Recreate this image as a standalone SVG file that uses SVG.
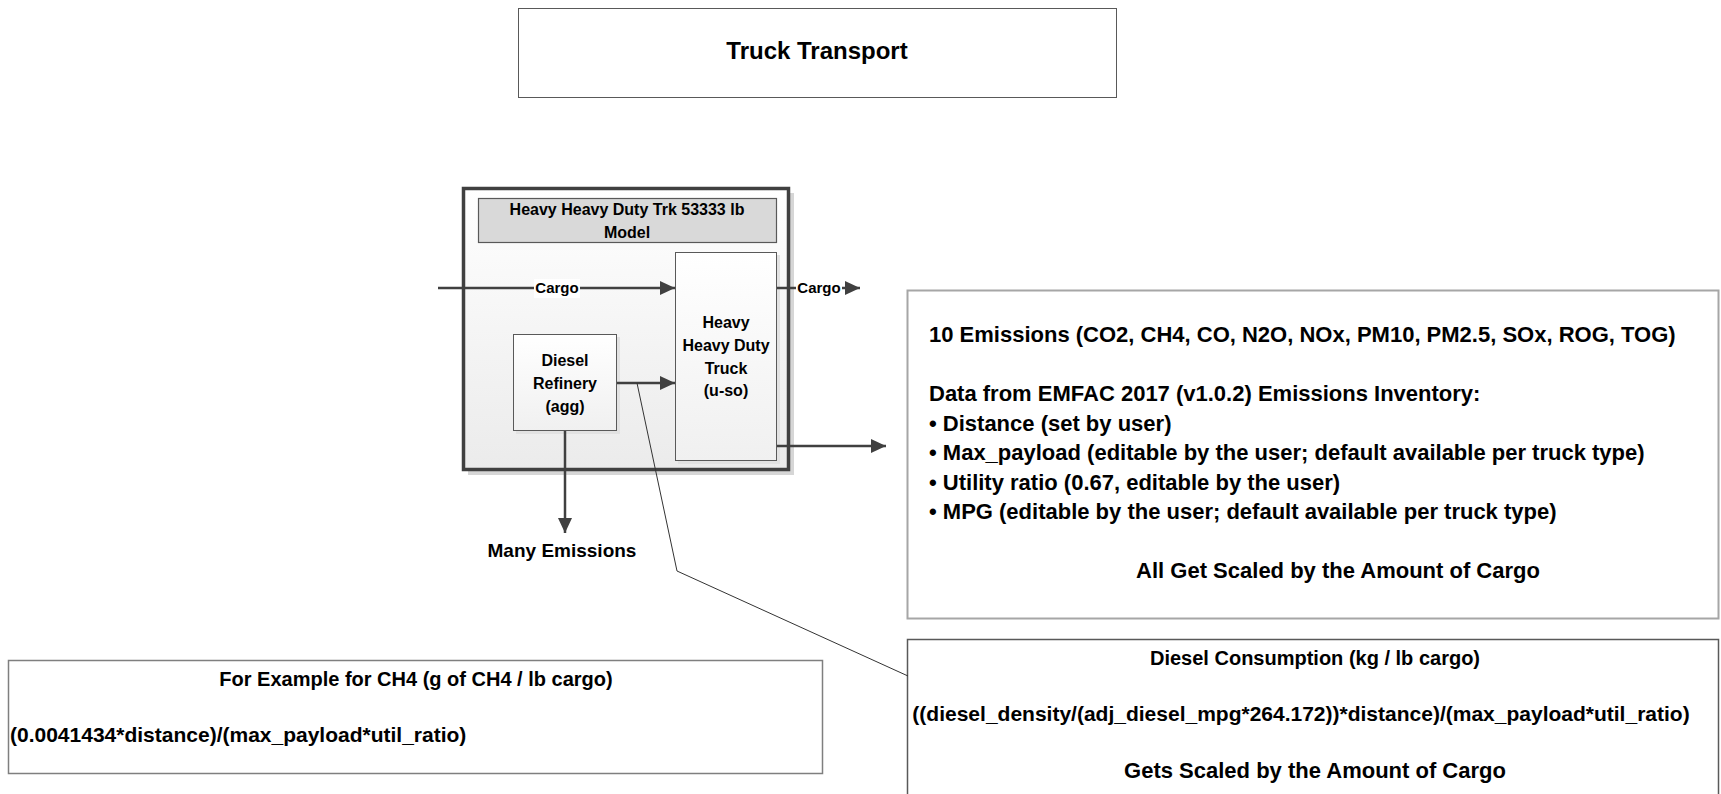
<svg xmlns="http://www.w3.org/2000/svg" width="1721" height="794" viewBox="0 0 1721 794">
<style>
  text { font-family: "Liberation Sans", Arial, sans-serif; font-weight: bold; fill: #000; }
  .c { text-anchor: middle; }
  .conn { stroke: #404040; stroke-width: 2.5; fill: none; }
  .thin { stroke: #333; stroke-width: 1; fill: none; }
  .box { stroke: #595959; stroke-width: 1; }
</style>
<defs>
  <linearGradient id="gCont" x1="0" y1="0" x2="0" y2="1">
    <stop offset="0" stop-color="#ffffff"/>
    <stop offset="1" stop-color="#ebebeb"/>
  </linearGradient>
  <linearGradient id="gBox" x1="0" y1="0" x2="0" y2="1">
    <stop offset="0" stop-color="#ffffff"/>
    <stop offset="1" stop-color="#f0f0f0"/>
  </linearGradient>
  <marker id="arr" markerUnits="userSpaceOnUse" markerWidth="16" markerHeight="14" refX="15" refY="7" orient="auto">
    <path d="M0,0 L15,7 L0,14 z" fill="#404040"/>
  </marker>
</defs>
<rect width="1721" height="794" fill="#ffffff"/>

<g id="title">
  <rect x="518.5" y="8.5" width="598" height="89" fill="#fff" stroke="#595959" stroke-width="1"/>
  <text class="c" x="817" y="59" font-size="24">Truck Transport</text>
</g>

<g id="container">
  <rect x="468" y="193" width="326" height="282" fill="#d6d6d6"/>
  <rect x="463.5" y="188.5" width="325" height="281" fill="url(#gCont)" stroke="#404040" stroke-width="3.5"/>
</g>

<g id="header">
  <rect x="478.5" y="198.5" width="298" height="44" fill="#d9d9d9" stroke="#595959" stroke-width="1.2"/>
  <text class="c" x="627" y="215" font-size="16">Heavy Heavy Duty Trk 53333 lb</text>
  <text class="c" x="627" y="238" font-size="16">Model</text>
</g>

<g id="truck">
  <rect x="678" y="255" width="102" height="209" fill="#e2e2e2"/>
  <rect x="675.5" y="252.5" width="101" height="208" fill="url(#gBox)" class="box"/>
  <text class="c" x="726" y="328" font-size="16">Heavy</text>
  <text class="c" x="726" y="351" font-size="16">Heavy Duty</text>
  <text class="c" x="726" y="374" font-size="16">Truck</text>
  <text class="c" x="726" y="396" font-size="16">(u-so)</text>
</g>

<g id="refinery">
  <rect x="516" y="337" width="104" height="97" fill="#e2e2e2"/>
  <rect x="513.5" y="334.5" width="103" height="96" fill="url(#gBox)" class="box"/>
  <text class="c" x="565" y="366" font-size="16">Diesel</text>
  <text class="c" x="565" y="389" font-size="16">Refinery</text>
  <text class="c" x="565" y="412" font-size="16">(agg)</text>
</g>

<g id="many-emissions">
  <text class="c" x="562" y="557" font-size="19">Many Emissions</text>
</g>

<g id="emissions-box">
  <rect x="907.5" y="290.5" width="811" height="328" fill="#fff" stroke="#a6a6a6" stroke-width="2"/>
  <text x="929" y="342" font-size="22">10 Emissions (CO2, CH4, CO, N2O, NOx, PM10, PM2.5, SOx, ROG, TOG)</text>
  <text x="929" y="401" font-size="22">Data from EMFAC 2017 (v1.0.2) Emissions Inventory:</text>
  <text x="929" y="431" font-size="22">• Distance (set by user)</text>
  <text x="929" y="460" font-size="22">• Max_payload (editable by the user; default available per truck type)</text>
  <text x="929" y="490" font-size="22">• Utility ratio (0.67, editable by the user)</text>
  <text x="929" y="519" font-size="22">• MPG (editable by the user; default available per truck type)</text>
  <text class="c" x="1338" y="578" font-size="22">All Get Scaled by the Amount of Cargo</text>
</g>

<g id="diesel-consumption-box">
  <rect x="907.5" y="639.5" width="811" height="160" fill="#fff" stroke="#595959" stroke-width="1.5"/>
  <text class="c" x="1315" y="665" font-size="20">Diesel Consumption (kg / lb cargo)</text>
  <text class="c" x="1301" y="721" font-size="21">((diesel_density/(adj_diesel_mpg*264.172))*distance)/(max_payload*util_ratio)</text>
  <text class="c" x="1315" y="778" font-size="22">Gets Scaled by the Amount of Cargo</text>
</g>

<g id="ch4-box">
  <rect x="8.5" y="660.5" width="814" height="113" fill="#fff" stroke="#7f7f7f" stroke-width="1.5"/>
  <text class="c" x="416" y="686" font-size="20">For Example for CH4 (g of CH4 / lb cargo)</text>
  <text x="10" y="742" font-size="21">(0.0041434*distance)/(max_payload*util_ratio)</text>
</g>

<g id="connectors">
  <line class="conn" x1="438" y1="288" x2="675" y2="288" marker-end="url(#arr)"/>
  <line class="conn" x1="617" y1="383" x2="675" y2="383" marker-end="url(#arr)"/>
  <line class="conn" x1="777" y1="288" x2="860" y2="288" marker-end="url(#arr)"/>
  <line class="conn" x1="777" y1="446" x2="886" y2="446" marker-end="url(#arr)"/>
  <line class="conn" x1="565" y1="431" x2="565" y2="533" marker-end="url(#arr)"/>
  <polyline class="thin" points="637,383 677,571 908,676"/>
  <rect x="534" y="279" width="46" height="19" fill="#ffffff"/>
  <text class="c" x="557" y="293" font-size="15">Cargo</text>
  <rect x="796" y="279" width="46" height="19" fill="#ffffff"/>
  <text class="c" x="819" y="293" font-size="15">Cargo</text>
</g>
</svg>
